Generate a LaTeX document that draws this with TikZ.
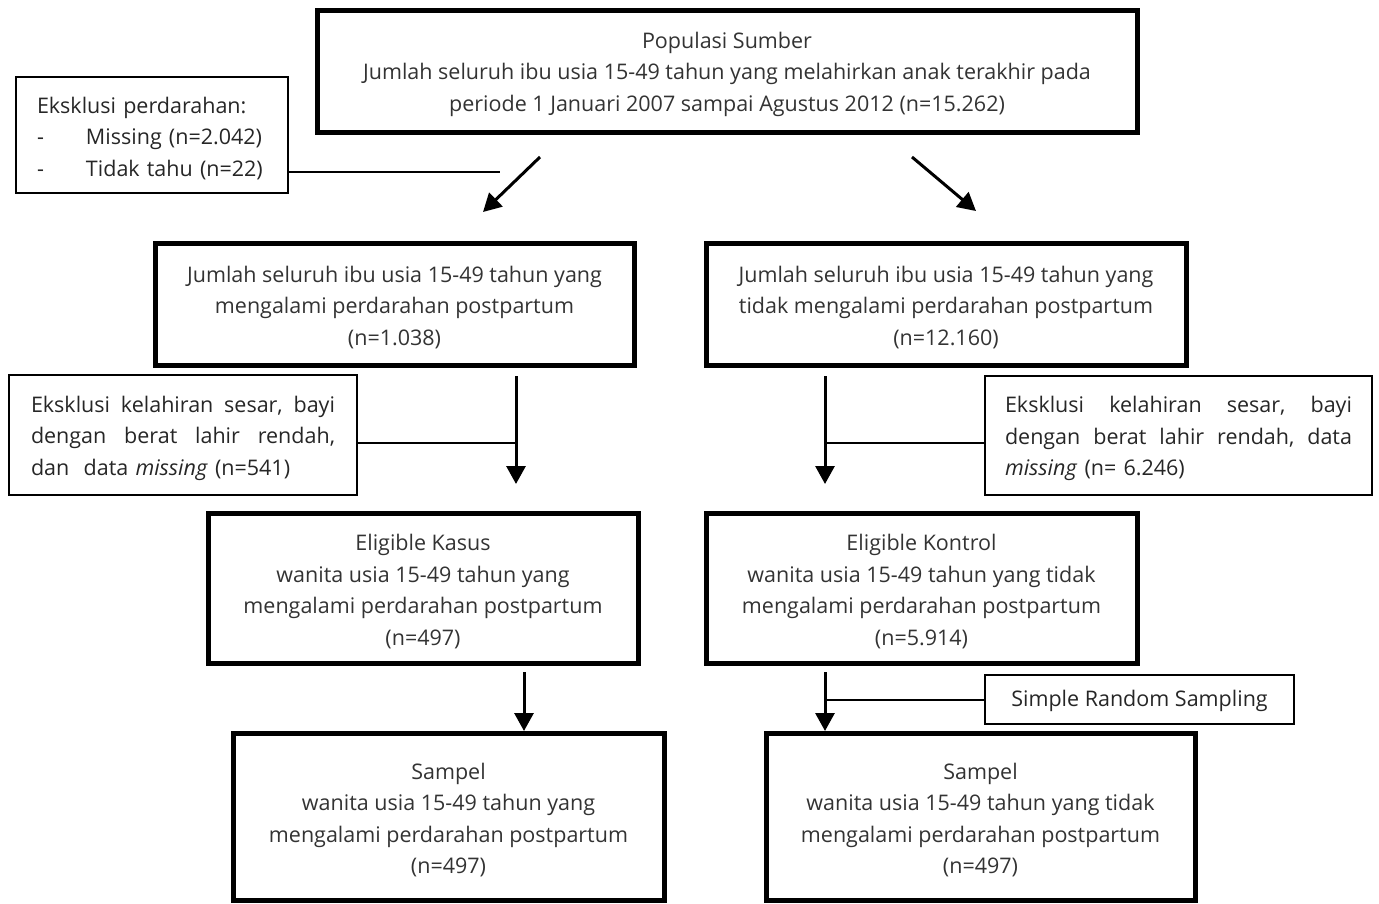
\documentclass[tikz,border=0pt]{standalone}
\usepackage{fontspec}
\setmainfont{Open Sans}
\usetikzlibrary{arrows.meta,calc}
\newcommand{\fl}{\rule{0pt}{23pt}}
\begin{document}
\begin{tikzpicture}[x=1pt,y=-1pt,
  every node/.style={font=\fontsize{21.5}{31.5}\selectfont, text=black!85},
  bigbox/.style={draw, line width=5pt, align=center, inner sep=0pt, text=black!80},
  thinbox/.style={draw, line width=1.3pt, inner sep=0pt},
  arr/.style={line width=3pt, -{Triangle[length=18pt,width=19pt]}},
  conn/.style={line width=2pt}]
\useasboundingbox (0,0) rectangle (1379,903);
% main boxes
\node[bigbox, minimum width=820, minimum height=122] (top) at (727,71)
  {\fl Populasi Sumber\\Jumlah seluruh ibu usia 15-49 tahun yang melahirkan anak terakhir pada\\periode 1 Januari 2007 sampai Agustus 2012 (n=15.262)};
\node[bigbox, minimum width=479, minimum height=122] (L1) at (394.5,304)
  {\fl Jumlah seluruh ibu usia 15-49 tahun yang\\mengalami perdarahan postpartum\\(n=1.038)};
\node[bigbox, minimum width=480, minimum height=122] (R1) at (946,304)
  {\fl Jumlah seluruh ibu usia 15-49 tahun yang\\tidak mengalami perdarahan postpartum\\(n=12.160)};
\node[bigbox, minimum width=430, minimum height=150] (L2) at (423,588)
  {\fl Eligible Kasus\\wanita usia 15-49 tahun yang\\mengalami perdarahan postpartum\\(n=497)};
\node[bigbox, minimum width=431, minimum height=150] (R2) at (921.5,588)
  {\fl Eligible Kontrol\\wanita usia 15-49 tahun yang tidak\\mengalami perdarahan postpartum\\(n=5.914)};
\node[bigbox, minimum width=431, minimum height=167] (L3) at (448.5,816.5)
  {\fl Sampel\\wanita usia 15-49 tahun yang\\mengalami perdarahan postpartum\\(n=497)};
\node[bigbox, minimum width=429, minimum height=167] (R3) at (980.5,816.5)
  {\fl Sampel\\wanita usia 15-49 tahun yang tidak\\mengalami perdarahan postpartum\\(n=497)};
% exclusion boxes
\node[thinbox, minimum width=272, minimum height=116, align=left, text width=230, inner xsep=21pt] (ex1) at (152,135)
  {\fl Eksklusi perdarahan:\\\makebox[49pt][l]{-}Missing (n=2.042)\\\makebox[49pt][l]{-}Tidak tahu (n=22)};
\node[thinbox, minimum width=348, minimum height=120, align=left, text width=304] (exL) at (183,435)
  {\fl\makebox[304pt][l]{Eksklusi\hfill kelahiran\hfill sesar,\hfill bayi}\\\makebox[304pt][l]{dengan\hfill berat\hfill lahir\hfill rendah,}\\dan\ \ data \textit{missing} (n=541)};
\node[thinbox, minimum width=387, minimum height=119, align=left, text width=347] (exR) at (1178.5,435.5)
  {\fl\makebox[347pt][l]{Eksklusi\hfill kelahiran\hfill sesar,\hfill bayi}\\\makebox[347pt][l]{dengan\hfill berat\hfill lahir\hfill rendah,\hfill data}\\\textit{missing} (n= 6.246)};
\node[thinbox, minimum width=309, minimum height=49] (srs) at (1139.5,699.5) {\rule{0pt}{19pt}Simple Random Sampling};
% coordinates
\coordinate (dl1) at (540,157); \coordinate (dl2) at (483,212);
\coordinate (dr1) at (912,157); \coordinate (dr2) at (976,211);
\coordinate (j1) at (500,172);
\coordinate (al1) at (516,376); \coordinate (al2) at (516,484);
\coordinate (ar1) at (825,376); \coordinate (ar2) at (825,484);
\coordinate (bl1) at (524,672); \coordinate (bl2) at (524,731);
\coordinate (br1) at (825,672); \coordinate (br2) at (825,731);
% connectors
\draw[arr] (dl1) -- (dl2);
\draw[arr] (dr1) -- (dr2);
\draw[conn] (ex1.east |- j1) -- (j1);
\draw[arr] (al1) -- (al2);
\draw[arr] (ar1) -- (ar2);
\draw[conn] (exL.east |- 0,443) coordinate (eL) -- (al1 |- eL);
\draw[conn] (exR.west |- 0,443) coordinate (eR) -- (ar1 |- eR);
\draw[arr] (bl1) -- (bl2);
\draw[arr] (br1) -- (br2);
\draw[conn] (srs.west) -- (br1 |- srs.west);
\end{tikzpicture}
\end{document}
